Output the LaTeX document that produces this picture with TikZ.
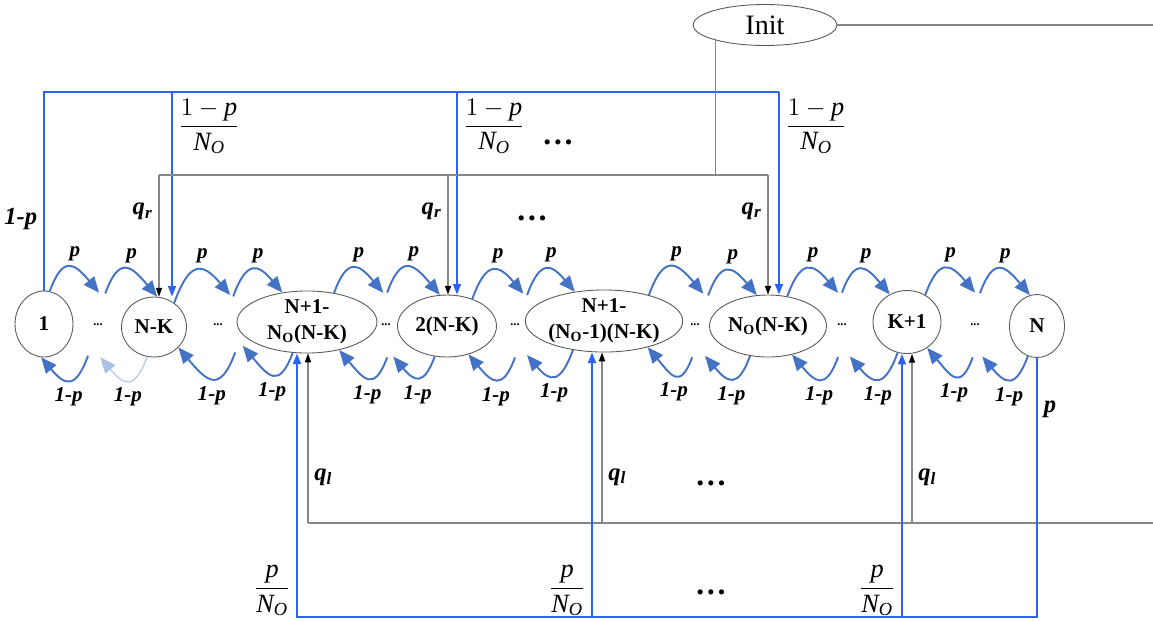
\documentclass[tikz,border=0pt]{standalone}
\usepackage{amsmath}
\usepackage{fontspec}
\setmainfont{Liberation Serif}
\usepackage{tikz}
\usetikzlibrary{arrows.meta, shapes.geometric, calc}
\definecolor{arc-blue}{RGB}{68, 114, 196}
\definecolor{link-blue}{RGB}{45, 98, 245}
\definecolor{link-gray}{RGB}{135, 135, 135}
\newcommand{\No}{N\textsubscript{O}}
\newcommand{\frc}[1]{$\dfrac{#1}{\textit{N}_{\textit{O}}}$}

\begin{document}
\begin{tikzpicture}[x=0.02cm, y=0.02cm,
        state/.style={ellipse, draw=black!65, line width=0.5pt, inner sep=0pt,
                      align=center, font=\fontsize{12}{14.5}\selectfont\bfseries},
        dots/.style={circle, minimum size=1.28cm, inner sep=0pt, font=\scriptsize\bfseries},
        lab/.style={font=\fontsize{12}{14}\selectfont\bfseries\itshape, inner sep=1pt, text=black},
        big/.style={font=\fontsize{14}{16}\selectfont\bfseries\itshape, text=black},
        frac/.style={font=\fontsize{15}{17}\selectfont, text=black},
        gap/.style={font=\fontsize{18}{18}\selectfont\bfseries},
        parc/.style={-{Triangle[length=9pt, width=7.5pt]}, line width=1.1pt,
                     color=arc-blue, looseness=2},
        faint/.style={color=arc-blue!45, line width=0.6pt},
        bline/.style={line width=1.1pt, color=link-blue},
        barr/.style={bline, -{Triangle[length=6pt, width=4.5pt]}},
        gline/.style={line width=0.6pt, color=link-gray},
        garr/.style={gline, -{Triangle[length=5pt, width=3.5pt, color=black]}}
      ]
  \useasboundingbox (0,0) rectangle (1153,-620);

  % states of the chain
  \node[state, minimum width=1.16cm, minimum height=1.32cm] (n1) at (44,-324) {1};
  \node[dots] (d1) at (98,-325) {...};
  \node[state, minimum width=1.3cm, minimum height=1.2cm] (nk) at (154,-327) {N-K};
  \node[dots] (d2) at (218,-325) {...};
  \node[state, minimum width=2.8cm, minimum height=1.2cm] (na) at (307,-322) {N+1-\\\No(N-K)};
  \node[dots] (d3) at (386,-325) {...};
  \node[state, minimum width=1.98cm, minimum height=1.24cm] (nb) at (447,-326) {2(N-K)};
  \node[dots] (d4) at (515,-325) {...};
  \node[state, minimum width=3.1cm, minimum height=1.24cm] (nc) at (604,-321) {N+1-\\(\No-1)(N-K)};
  \node[dots] (d5) at (695,-325) {...};
  \node[state, minimum width=2.34cm, minimum height=1.24cm] (nd) at (768,-326) {\No(N-K)};
  \node[dots] (d6) at (842,-325) {...};
  \node[state, minimum width=1.36cm, minimum height=1.26cm] (ne) at (907,-322) {K+1};
  \node[dots] (d7) at (975,-325) {...};
  \node[state, minimum width=1.1cm, minimum height=1.26cm] (nn) at (1037,-326) {N};
  \node[ellipse, draw=black!65, line width=0.5pt, inner sep=0pt,
        minimum width=2.88cm, minimum height=0.82cm,
        font=\fontsize{16}{18}\selectfont] (init) at (765,-25) {Init};

  % p arcs above, 1-p arcs below
  \foreach \a/\sa/\b/\eb in {n1/80/d1/88, d1/77/nk/84, nk/50/d2/68, d2/62/na/130,
      na/47/d3/95, d3/88/nb/103, nb/47/d4/75, d4/68/nc/135, nc/30/d5/75,
      d5/66/nd/110, nd/57/d6/97, d6/90/ne/122, ne/56/d7/90, d7/81/nn/103}
    \draw[parc] (\a.\sa) to[out=70, in=130] node[lab, above=3pt, pos=.6] {p} (\b.\eb);
  \foreach \b/\sb/\a/\ea in {d1/252/n1/265, d2/302/nk/320, na/245/d2/320,
      d3/272/na/319, nb/248/d3/283, d4/270/nb/307, nc/223/d4/292, d5/265/nc/329,
      nd/239/d5/288, d6/263/nd/310, ne/253/d6/284, d7/266/ne/308, nn/253/d7/283}
    \draw[parc] (\b.\sb) to[out=-110, in=-50] node[lab, below=3pt, pos=.5] {1-p} (\a.\ea);
  \draw[parc, faint] (nk.257) to[out=-110, in=-50] node[lab, below=3pt, pos=.5] {1-p} (d1.274);

  % (1-p)/No links from state 1
  \coordinate (bt1) at (172,-92);
  \coordinate (bt2) at (457,-92);
  \coordinate (bt3) at (779,-92);
  \draw[bline] (n1.north) |- node[big, left, pos=.18] {1-p} (bt3);
  \draw[barr] (bt1) -- node[frac, right, pos=.17] {\frc{1-\textit{p}}} (bt1 |- nk.north);
  \draw[barr] (bt2) -- node[frac, right, pos=.17] {\frc{1-\textit{p}}} (bt2 |- nb.north);
  \draw[barr] (bt3) -- node[frac, right, pos=.17] {\frc{1-\textit{p}}} (bt3 |- nd.north);
  \node[gap] (g1) at (558,-142) {\textellipsis};

  % q_r links from Init
  \coordinate (qa) at (159,-175);
  \coordinate (qb) at (448,-175);
  \coordinate (qc) at (768,-175);
  \coordinate (re) at (1153,-25);
  \draw[gline] (init.east) -- (re);
  \draw[gline] (init.197) -- (init.197 |- qc);
  \draw[gline] (qa) -- (qc);
  \draw[garr] (qa) -- node[big, left, pos=.3] {q\textsubscript{r}} (qa |- nk.north);
  \draw[garr] (qb) -- node[big, left, pos=.3] {q\textsubscript{r}} (qb |- nb.north);
  \draw[garr] (qc) -- node[big, left, pos=.3] {q\textsubscript{r}} (qc |- nd.north);
  \node[gap] (g2) at (532,-218) {\textellipsis};

  % q_l links
  \coordinate (ga) at (308,-523);
  \coordinate (gb) at (602,-523);
  \coordinate (gc) at (912,-523);
  \coordinate (ge) at (1153,-523);
  \draw[gline] (ge) -- (ga);
  \draw[garr] (ga) -- node[big, right, pos=.27] {q\textsubscript{l}} (ga |- na.south);
  \draw[garr] (gb) -- node[big, right, pos=.27] {q\textsubscript{l}} (gb |- nc.south);
  \draw[garr] (gc) -- node[big, right, pos=.27] {q\textsubscript{l}} (gc |- ne.south);
  \node[gap] (g3) at (711,-483) {\textellipsis};

  % p/No links from state N
  \coordinate (bb1) at (297,-617);
  \coordinate (bb2) at (592,-617);
  \coordinate (bb3) at (902,-617);
  \draw[barr] (nn.south) |- node[big, right, pos=.1] {p} (bb1)
    -- node[frac, left, pos=.1] {\frc{\textit{p}}} (bb1 |- na.south);
  \draw[barr] (bb2) -- node[frac, left, pos=.1] {\frc{\textit{p}}} (bb2 |- nc.south);
  \draw[barr] (bb3) -- node[frac, left, pos=.1] {\frc{\textit{p}}} (bb3 |- ne.south);
  \node[gap] (g4) at (711,-592) {\textellipsis};
\end{tikzpicture}
\end{document}
